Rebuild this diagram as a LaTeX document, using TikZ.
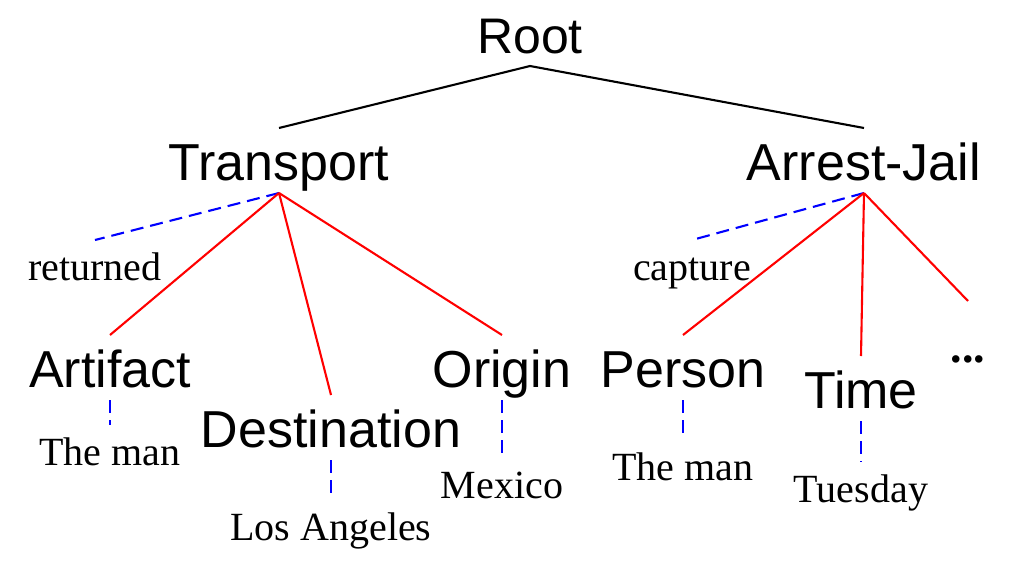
\documentclass[tikz,border=0pt]{standalone}
\usepackage{fontspec}
\setmainfont{Liberation Serif}
\setsansfont{Liberation Sans}
\usepackage{tikz}

\begin{document}
\begin{tikzpicture}[x=1pt,y=-1pt,
	role/.style={font=\sffamily\fontsize{52}{60}\selectfont,anchor=base,inner sep=0pt,outer xsep=0pt,outer ysep=13pt,text height=39pt,text depth=0pt},
	word/.style={font=\fontsize{40}{48}\selectfont,anchor=base,inner sep=0pt,outer xsep=0pt,outer ysep=12pt,text height=28pt,text depth=0pt},
	tree/.style={line width=2.1pt},
	arg/.style={red,line width=2.1pt},
	trig/.style={blue,line width=2.1pt,dash pattern=on 13pt off 7pt}]
		\useasboundingbox (0,0) rectangle (1009,573);
		% edit here for the event nodes
		\node[role,font=\sffamily\fontsize{50}{58}\selectfont] (root) at (530,53) {Root};
		\node[role] (transport) at (279,180) {Transport};
		\node[role] (arrest) at (864,180) {Arrest-Jail};
		\node[word] (returned) at (95,280) {returned};
		\node[word] (capture) at (692,280) {capture};
		% edit here for the roles
		\node[role] (artifact) at (110,387) {Artifact};
		\node[role] (dest) at (331,447) {Destination};
		\node[role] (origin) at (502,387) {Origin};
		\node[role] (person) at (683,387) {Person};
		\node[role] (time) at (861,408) {Time};
		\node[word,font=\bfseries\fontsize{46}{52}\selectfont] (more) at (968,362) {...};
		% edit here for the fillers
		\node[word] (man1) at (110,465) {The man};
		\node[word] (la) at (331,540) {Los Angeles};
		\node[word] (mexico) at (502,498) {Mexico};
		\node[word] (man2) at (683,480) {The man};
		\node[word] (tuesday) at (861,502) {Tuesday};
		\draw[tree] (root.south) -- (transport.north);
		\draw[tree] (root.south) -- (arrest.north);
		\draw[trig] (transport.south) -- (returned.north);
		\draw[trig] (arrest.south) -- (capture.north);
		\foreach \n in {artifact,dest,origin}
		\draw[arg] (transport.south) -- (\n.north);
		\foreach \n in {person,time}
		\draw[arg] (arrest.south) -- (\n.north);
		\draw[arg] (arrest.south) -- ([yshift=21pt]more.north);
		\draw[trig] (artifact.south) -- (man1.north);
		\draw[trig] (dest.south) -- (la.north);
		\draw[trig] (origin.south) -- (mexico.north);
		\draw[trig] (person.south) -- (man2.north);
		\draw[trig] (time.south) -- (tuesday.north);
		\end{tikzpicture}
\end{document}
